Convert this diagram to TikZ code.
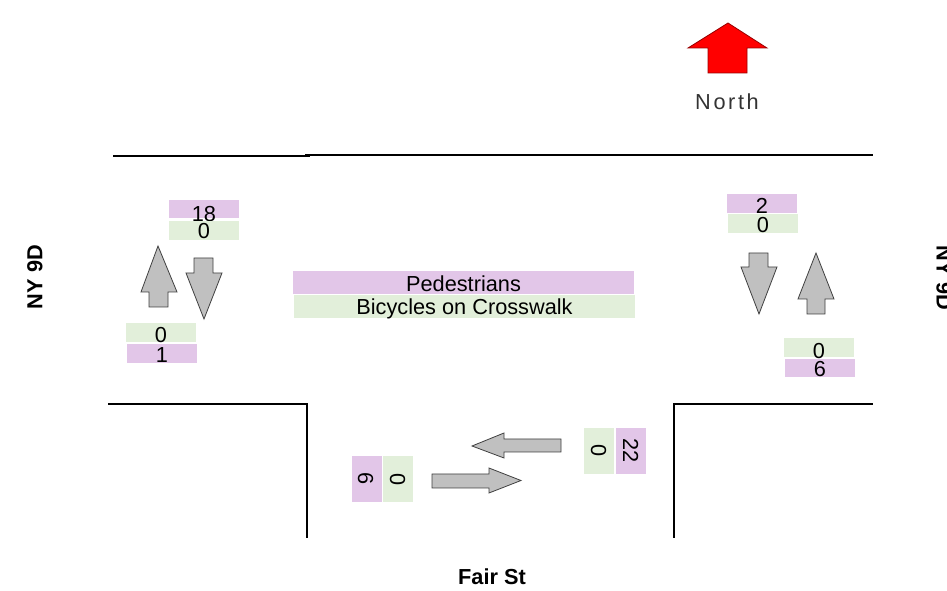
\documentclass[tikz,border=0pt]{standalone}
\usepackage{fontspec}
\setmainfont{Liberation Sans}
\newfontfamily\northfont[LetterSpace=12]{Liberation Sans}
\definecolor{pur}{HTML}{E2C6E8}
\definecolor{grn}{HTML}{E2EFDA}
\definecolor{arrgray}{HTML}{C0C0C0}
\newcommand{\lowtxt}[2]{\raisebox{\dimexpr-#1pt-5.84pt\relax}[0pt][0pt]{#2}}
\begin{document}
\begin{tikzpicture}[x=0.75pt,y=-0.75pt,
  font=\fontsize{16.3pt}{19pt}\selectfont,
  box/.style={inner sep=0pt, outer sep=0pt, minimum width=52.5pt, minimum height=13.8pt},
  pbox/.style={box, fill=pur},
  gbox/.style={box, fill=grn},
  wide/.style={minimum width=255.75pt, minimum height=17.25pt},
  vbox/.style={box, rotate=-90, minimum width=34.5pt, minimum height=22.5pt},
  arr/.style={fill=arrgray, draw=black!75, line width=0.6pt, line join=miter},
  road/.style={line width=1.6pt, line cap=butt},
  roadname/.style={font=\fontsize{16.3pt}{19pt}\selectfont\bfseries, inner sep=0pt}]
\useasboundingbox (0,0) rectangle (947,591);

% roads
\draw[road] (113,156) -- (310,156);
\draw[road] (305,155) -- (873,155);
\draw[road] (108,404) -- (307,404) -- (307,538);
\draw[road] (674,538) -- (674,404) -- (873,404);

% north arrow
\draw[fill=red, draw=red!60!black, line width=0.6pt] (728,23) -- (767,48) -- (747,48) -- (747,73) -- (708,73) -- (708,48) -- (688,48) -- cycle;
\node[text=black!80, inner sep=0pt] (north) at (727,102) {\northfont North};

% road names
\node[roadname, rotate=90] (nyleft) at (35,277) {NY 9D};
\node[roadname, rotate=-90] (nyright) at (944,278) {NY 9D};
\node[roadname] (fair) at (492,577) {Fair St};

% left approach
\node[pbox] (lp) at (204,209) {\lowtxt{3.4}{18}};
\node[gbox] (lg) at (204,230.5) {\lowtxt{0.4}{0}};
\draw[arr] (158,246) -- (177,292) -- (168,292) -- (168,307) -- (149,307) -- (149,292) -- (141,292) -- cycle;
\draw[arr] (194,258) -- (213,258) -- (213,273) -- (222,273) -- (204,319) -- (186,273) -- (194,273) -- cycle;
\node[gbox] (lg2) at (161,332.5) {\lowtxt{1.5}{0}};
\node[pbox] (lp2) at (162,353.5) {\lowtxt{0.75}{1}};

% right approach
\node[pbox] (rp) at (762,203.5) {\lowtxt{2}{2}};
\node[gbox] (rg) at (763,223.5) {\lowtxt{0.75}{0}};
\draw[arr] (749,253) -- (768,253) -- (768,267) -- (777,267) -- (759,314) -- (741,267) -- (749,267) -- cycle;
\draw[arr] (816,253) -- (834,299) -- (825,299) -- (825,314) -- (807,314) -- (807,299) -- (798,299) -- cycle;
\node[gbox] (rg2) at (819,347.5) {\lowtxt{2.1}{0}};
\node[pbox] (rp2) at (820,368) {\lowtxt{0.75}{6}};

% crosswalk legend
\node[pbox, wide] (ped) at (463.5,282.5) {\lowtxt{0.75}{Pedestrians}};
\node[gbox, wide] (bic) at (464.5,306.5) {\lowtxt{0}{Bicycles on Crosswalk}};

% bottom approach
\draw[arr] (472,446) -- (504,433) -- (504,439) -- (561,439) -- (561,452) -- (504,452) -- (504,458) -- cycle;
\draw[arr] (432,474) -- (489,474) -- (489,468) -- (521,480.5) -- (489,493) -- (489,488) -- (432,488) -- cycle;
\node[vbox, fill=pur] (bp) at (367,479) {\lowtxt{0.75}{6}};
\node[vbox, fill=grn] (bg) at (398,479.5) {\lowtxt{0}{0}};
\node[vbox, fill=grn] (bg2) at (599,451) {\lowtxt{0}{0}};
\node[vbox, fill=pur] (bp2) at (631,451) {\lowtxt{0}{22}};
\end{tikzpicture}
\end{document}
